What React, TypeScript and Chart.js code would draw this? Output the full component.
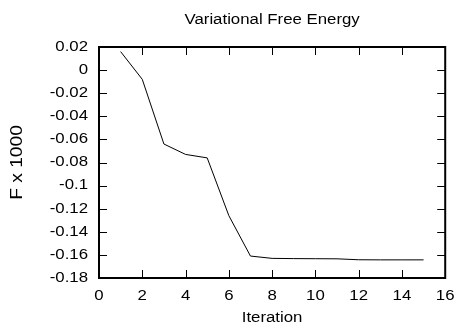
import React, { useEffect, useRef } from "react";
import { Chart, registerables } from "chart.js";

Chart.register(...registerables);

// ---- data ----
const iterations = [1, 2, 3, 4, 5, 6, 7, 8, 9, 10, 11, 12, 13, 14, 15];
const freeEnergy = [
  0.016, -0.008, -0.064, -0.073, -0.076, -0.126, -0.161, -0.163, -0.1632,
  -0.1633, -0.1634, -0.1642, -0.1643, -0.1643, -0.1643,
];
const xTickValues = [0, 2, 4, 6, 8, 10, 12, 14, 16];
const xTickLabels = ["0", "2", "4", "6", "8", "10", "12", "14", "16"];
const yTickValues = [-0.18, -0.16, -0.14, -0.12, -0.1, -0.08, -0.06, -0.04, -0.02, 0, 0.02];
const yTickLabels = ["-0.18", "-0.16", "-0.14", "-0.12", "-0.1", "-0.08", "-0.06", "-0.04", "-0.02", "0", "0.02"];
const chartTitle = "Variational Free Energy";
const xTitle = "Iteration";
const yTitle = "F x 1000";

const FONT = "'Liberation Sans', Arial, Helvetica, sans-serif";
const STRETCH = 1.2;
const TICK = 8;

const labelFor = (vals: number[], labels: string[], v: number) => {
  const i = vals.findIndex((t) => Math.abs(t - v) < 1e-9);
  return i >= 0 ? labels[i] : "";
};

const stretchTextPlugin = {
  id: "stretchText",
  beforeDraw(chart: any) {
    const ctx = chart.ctx as any;
    if (!ctx.__stretched) {
      const orig = ctx.fillText.bind(ctx);
      ctx.fillText = (text: string, x: number, y: number) => {
        ctx.save();
        ctx.translate(x, y);
        ctx.scale(STRETCH, 1);
        orig(text, 0, 0);
        ctx.restore();
      };
      ctx.__stretched = true;
    }
  },
};

const framePlugin = {
  id: "frame",
  afterDatasetsDraw(chart: any) {
    const { ctx, chartArea, scales } = chart;
    const { left, right, top, bottom } = chartArea;
    const x = scales.x;
    const y = scales.y;
    ctx.save();
    ctx.strokeStyle = "#000";
    ctx.lineWidth = 1;
    ctx.beginPath();
    xTickValues.forEach((v) => {
      const px = Math.round(x.getPixelForValue(v)) + 0.5;
      if (px > left + 3 && px < right - 3) {
        ctx.moveTo(px, bottom);
        ctx.lineTo(px, bottom - TICK);
        ctx.moveTo(px, top);
        ctx.lineTo(px, top + TICK);
      }
    });
    yTickValues.forEach((v) => {
      const py = Math.round(y.getPixelForValue(v)) + 0.5;
      if (py > top + 3 && py < bottom - 3) {
        ctx.moveTo(left, py);
        ctx.lineTo(left + TICK, py);
        ctx.moveTo(right, py);
        ctx.lineTo(right - TICK, py);
      }
    });
    ctx.stroke();
    ctx.lineWidth = 2;
    ctx.strokeRect(left, top, right - left, bottom - top);
    ctx.restore();
  },
};

export default function App() {
  const canvasRef = useRef<HTMLCanvasElement | null>(null);

  useEffect(() => {
    if (!canvasRef.current) return;
    const chart = new Chart(canvasRef.current, {
      type: "line",
      data: {
        datasets: [
          {
            data: iterations.map((it, i) => ({ x: it, y: freeEnergy[i] })),
            borderColor: "#000",
            borderWidth: 1,
            pointRadius: 0,
            tension: 0,
            fill: false,
          },
        ],
      },
      options: {
        animation: false,
        responsive: true,
        maintainAspectRatio: false,
        layout: { padding: { left: 0, right: 13, top: 0, bottom: 0 } },
        plugins: {
          legend: { display: false },
          tooltip: { enabled: false },
          title: { display: false },
        },
        scales: {
          x: {
            type: "linear",
            position: "bottom",
            min: 0,
            max: 16,
            afterBuildTicks: (s: any) => {
              s.ticks = xTickValues.map((v) => ({ value: v }));
            },
            afterFit: (s: any) => {
              s.height = 49;
            },
            grid: { display: false, drawTicks: false },
            border: { display: false },
            ticks: {
              color: "#000",
              padding: 10,
              maxRotation: 0,
              autoSkip: false,
              font: { family: FONT, size: 14 },
              callback: (v: any) => labelFor(xTickValues, xTickLabels, Number(v)),
            },
            title: {
              display: true,
              text: xTitle,
              color: "#000",
              font: { family: FONT, size: 14 },
              padding: { top: 0, bottom: 0 },
            },
          },
          x2: {
            type: "linear",
            axis: "x",
            position: "top",
            min: 0,
            max: 16,
            afterFit: (s: any) => {
              s.height = 47;
            },
            grid: { display: false, drawTicks: false },
            border: { display: false },
            ticks: { display: false },
            title: {
              display: true,
              text: chartTitle,
              color: "#000",
              font: { family: FONT, size: 14 },
              padding: { top: 12, bottom: 0 },
            },
          },
          y: {
            type: "linear",
            position: "left",
            min: -0.18,
            max: 0.02,
            afterBuildTicks: (s: any) => {
              s.ticks = yTickValues.map((v) => ({ value: v }));
            },
            afterFit: (s: any) => {
              s.width = 99;
            },
            grid: { display: false, drawTicks: false },
            border: { display: false },
            ticks: {
              color: "#000",
              padding: 11,
              autoSkip: false,
              font: { family: FONT, size: 14 },
              callback: (v: any) => labelFor(yTickValues, yTickLabels, Number(v)),
            },
            title: {
              display: true,
              text: yTitle,
              color: "#000",
              font: { family: FONT, size: 16 },
              padding: { top: 8, bottom: 0 },
            },
          },
        },
      } as any,
      plugins: [stretchTextPlugin, framePlugin],
    });
    return () => chart.destroy();
  }, []);

  return (
    <div
      style={{
        position: "fixed",
        left: 0,
        top: 0,
        width: "463px",
        height: "327px",
        background: "#fff",
      }}
    >
      <canvas ref={canvasRef} />
    </div>
  );
}
